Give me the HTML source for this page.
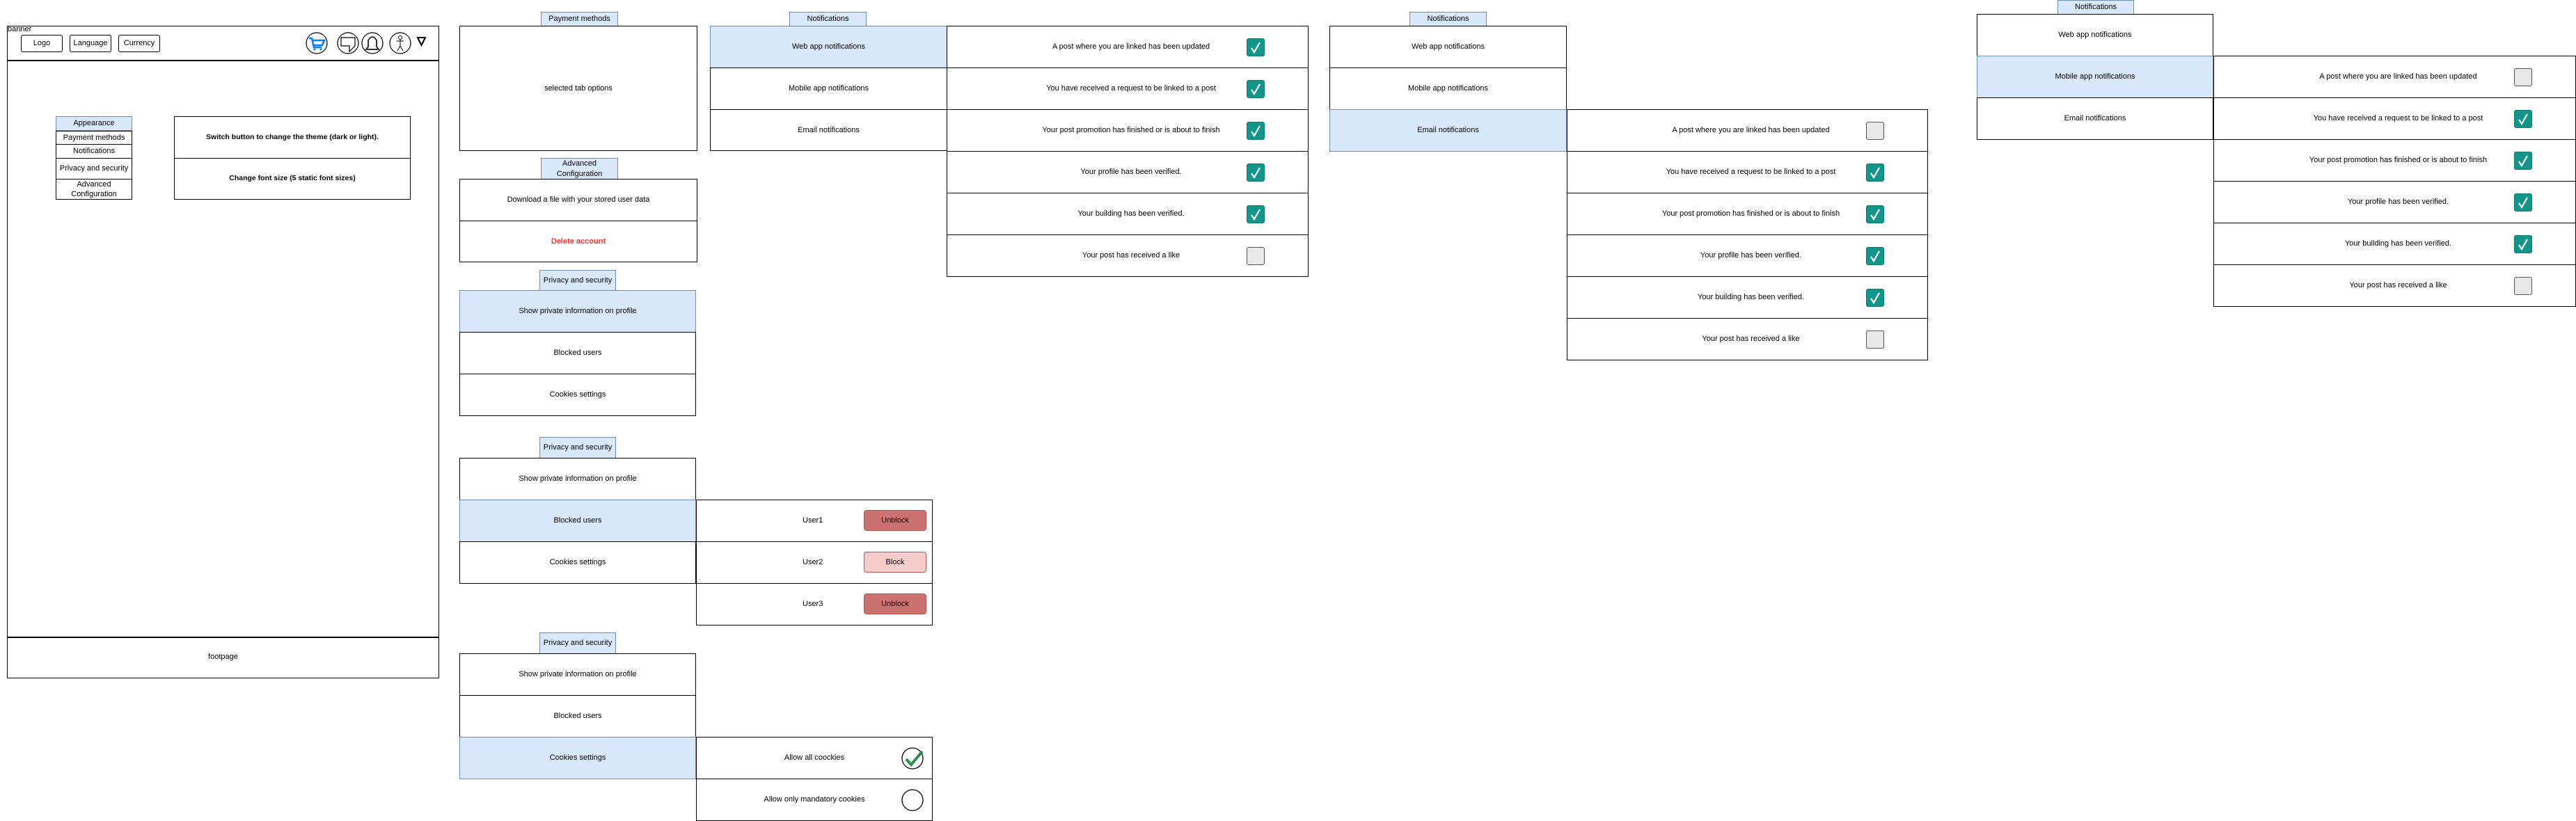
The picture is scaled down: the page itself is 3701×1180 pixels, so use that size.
<!DOCTYPE html>
<html><head><meta charset="utf-8">
<style>
body{margin:0;width:3701px;height:1178px;background:#fff;position:relative;overflow:hidden;font-family:"Liberation Sans",sans-serif;}
.c{position:absolute;box-sizing:border-box;border:1.5px solid #000;display:flex;align-items:center;justify-content:center;font-size:11px;color:#000;text-align:center;background:#fff;line-height:1.3;}
.b{background:#dae8fc;border-color:#6c8ebf;}
.t{background:#dae8fc;border:1.5px solid #6c8ebf;border-bottom:none;}
.ck{position:absolute;width:26px;height:26px;border-radius:3px;background:#12968a;top:50%;margin-top:-13px;box-sizing:border-box;border:1px solid #0d7a70;}
.un{position:absolute;width:26px;height:26px;border-radius:3px;background:#e8e8e8;top:50%;margin-top:-13px;box-sizing:border-box;border:1.5px solid #555;}
.btn{position:absolute;border-radius:4px;display:flex;align-items:center;justify-content:center;font-size:11px;box-sizing:border-box;}
</style></head><body>

<!-- Main frame -->
<div class="c" style="left:10px;top:37px;width:621px;height:938px;"></div>
<div style="position:absolute;left:10px;top:86px;width:621px;height:1.5px;background:#000"></div>
<div style="position:absolute;left:10px;top:915px;width:621px;height:1.5px;background:#000"></div>
<div style="position:absolute;left:11px;top:36px;font-size:11px;">banner</div>
<div class="c" style="left:30px;top:50px;width:60px;height:25px;border-radius:3px;">Logo</div>
<div class="c" style="left:100px;top:50px;width:60px;height:25px;border-radius:3px;">Language</div>
<div class="c" style="left:170px;top:50px;width:60px;height:25px;border-radius:3px;">Currency</div>
<svg style="position:absolute;left:430px;top:44px" width="200" height="36">
 <circle cx="25" cy="18" r="15" fill="none" stroke="#000" stroke-width="1.2"/>
 <path d="M14 11 L18 11 L21 24 L32 24 M19 14 L36 14 L33 21 L20.5 21" fill="none" stroke="#007fff" stroke-width="2.5"/>
 <circle cx="22" cy="27" r="1.5" fill="#007fff"/><circle cx="31" cy="27" r="1.5" fill="#007fff"/>
 <circle cx="70" cy="18" r="15" fill="none" stroke="#000" stroke-width="1.2"/>
 <path d="M60 10 L80 10 L80 22 L72 30 L72 22 L60 22 Z" fill="none" stroke="#000" stroke-width="1.2"/>
 <circle cx="105" cy="18" r="15" fill="none" stroke="#000" stroke-width="1.2"/>
 <path d="M96 27 L114 27 L111 23 L111 14 Q105 4 99 14 L99 23 Z" fill="none" stroke="#333" stroke-width="2"/>
 <circle cx="145" cy="18" r="15" fill="none" stroke="#000" stroke-width="1.2"/>
 <circle cx="145" cy="10" r="2.5" fill="none" stroke="#000"/>
 <path d="M145 13 L145 22 M140 15 L150 15 M145 22 L141 29 M145 22 L149 29" stroke="#000" fill="none"/>
 <path d="M170 10 L181 10 L175.5 21 Z" fill="none" stroke="#000" stroke-width="2"/>
</svg>
<div class="c b" style="left:80px;top:167px;width:110px;height:21px;">Appearance</div>
<div class="c" style="left:80px;top:188px;width:110px;height:20px;">Payment methods</div>
<div class="c" style="left:80px;top:207px;width:110px;height:21px;">Notifications</div>
<div class="c" style="left:80px;top:227px;width:110px;height:31px;">Privacy and security</div>
<div class="c" style="left:80px;top:257px;width:110px;height:30px;">Advanced<br>Configuration</div>
<div class="c" style="left:250px;top:167px;width:340px;height:61px;font-weight:bold;font-size:10.5px;">Switch button to change the theme (dark or light).</div>
<div class="c" style="left:250px;top:227px;width:340px;height:60px;font-weight:bold;font-size:10.5px;">Change font size (5 static font sizes)</div>
<div style="position:absolute;left:10px;top:938px;width:621px;text-align:center;font-size:11px;">footpage</div>

<!-- Payment methods -->
<div class="c t" style="left:777px;top:17px;width:111px;height:20px;">Payment methods</div>
<div class="c" style="left:660px;top:37px;width:342px;height:180px;">selected tab options</div>

<!-- Advanced configuration -->
<div class="c t" style="left:777px;top:227px;width:111px;height:30px;">Advanced<br>Configuration</div>
<div class="c" style="left:660px;top:257px;width:342px;height:61px;">Download a file with your stored user data</div>
<div class="c" style="left:660px;top:317px;width:342px;height:60px;color:#ff3333;font-weight:bold;">Delete account</div>

<!-- Privacy 1 -->
<div class="c t" style="left:775px;top:388px;width:110px;height:29px;">Privacy and security</div>
<div class="c b" style="left:660px;top:417px;width:340px;height:61px;">Show private information on profile</div>
<div class="c" style="left:660px;top:477px;width:340px;height:61px;">Blocked users</div>
<div class="c" style="left:660px;top:537px;width:340px;height:61px;">Cookies settings</div>

<!-- Privacy 2 -->
<div class="c t" style="left:775px;top:628px;width:110px;height:30px;">Privacy and security</div>
<div class="c" style="left:660px;top:658px;width:340px;height:61px;">Show private information on profile</div>
<div class="c b" style="left:660px;top:718px;width:340px;height:61px;">Blocked users</div>
<div class="c" style="left:660px;top:778px;width:340px;height:61px;">Cookies settings</div>
<div class="c" style="left:1000px;top:718px;width:340px;height:61px;justify-content:flex-start;"><span style="position:absolute;left:152px;">User1</span><div class="btn" style="left:240px;top:14px;width:90px;height:30px;background:#cd7272;border:1px solid #b85450;">Unblock</div></div>
<div class="c" style="left:1000px;top:778px;width:340px;height:61px;"><span style="position:absolute;left:152px;">User2</span><div class="btn" style="left:240px;top:14px;width:90px;height:30px;background:#f8cecc;border:1px solid #b85450;">Block</div></div>
<div class="c" style="left:1000px;top:838px;width:340px;height:61px;"><span style="position:absolute;left:152px;">User3</span><div class="btn" style="left:240px;top:14px;width:90px;height:30px;background:#cd7272;border:1px solid #b85450;">Unblock</div></div>

<!-- Privacy 3 -->
<div class="c t" style="left:775px;top:909px;width:110px;height:30px;">Privacy and security</div>
<div class="c" style="left:660px;top:939px;width:340px;height:61px;">Show private information on profile</div>
<div class="c" style="left:660px;top:999px;width:340px;height:61px;">Blocked users</div>
<div class="c b" style="left:660px;top:1059px;width:340px;height:61px;">Cookies settings</div>
<div class="c" style="left:1000px;top:1059px;width:340px;height:61px;">Allow all coockies
<svg style="position:absolute;left:294px;top:14px" width="34" height="34"><circle cx="16" cy="16" r="15" fill="none" stroke="#000" stroke-width="1.3"/><path d="M7 17 L14 25 L30 6" fill="none" stroke="#2d8f4e" stroke-width="4"/></svg></div>
<div class="c" style="left:1000px;top:1119px;width:340px;height:61px;">Allow only mandatory cookies
<svg style="position:absolute;left:294px;top:14px" width="34" height="34"><circle cx="16" cy="16" r="15" fill="none" stroke="#000" stroke-width="1.3"/></svg></div>

<!-- Notifications 1 -->
<div class="c t" style="left:1134px;top:17px;width:111px;height:20px;">Notifications</div>
<div class="c b" style="left:1020px;top:37px;width:341px;height:61px;">Web app notifications</div>
<div class="c" style="left:1020px;top:97px;width:341px;height:61px;">Mobile app notifications</div>
<div class="c" style="left:1020px;top:157px;width:341px;height:60px;">Email notifications</div>

<!-- Notifications 2 -->
<div class="c t" style="left:2025px;top:17px;width:111px;height:20px;">Notifications</div>
<div class="c" style="left:1910px;top:37px;width:341px;height:61px;">Web app notifications</div>
<div class="c" style="left:1910px;top:97px;width:341px;height:61px;">Mobile app notifications</div>
<div class="c b" style="left:1910px;top:157px;width:341px;height:61px;">Email notifications</div>

<!-- Notifications 3 -->
<div class="c t" style="left:2956px;top:0px;width:110px;height:20px;">Notifications</div>
<div class="c" style="left:2840px;top:20px;width:340px;height:61px;">Web app notifications</div>
<div class="c b" style="left:2840px;top:80px;width:340px;height:61px;">Mobile app notifications</div>
<div class="c" style="left:2840px;top:140px;width:340px;height:61px;">Email notifications</div>

<div id="n"></div>
<script>
var texts=["A post where you are linked has been updated","You have received a request to be linked to a post","Your post promotion has finished or is about to finish","Your profile has been verified.","Your building has been verified.","Your post has received a like"];
var sets=[[1360,37,520,[1,1,1,1,1,0]],[2251,157,519,[0,1,1,1,1,0]],[3180,80,521,[0,1,1,1,1,0]]];
var h="";
sets.forEach(function(s){for(var i=0;i<6;i++){
 var ck=s[3][i]?'<div class="ck" style="right:62px"><svg width="24" height="24" style="position:absolute;left:0;top:0"><path d="M6 13 L10 19 L18 5" fill="none" stroke="#fff" stroke-width="2.2"/></svg></div>':'<div class="un" style="right:62px"></div>';
 h+='<div class="c" style="left:'+s[0]+'px;top:'+(s[1]+i*60)+'px;width:'+s[2]+'px;height:61px;"><span style="margin-left:10px">'+texts[i]+'</span>'+ck+'</div>';
}});
document.getElementById("n").innerHTML=h;
</script>
</body></html>
